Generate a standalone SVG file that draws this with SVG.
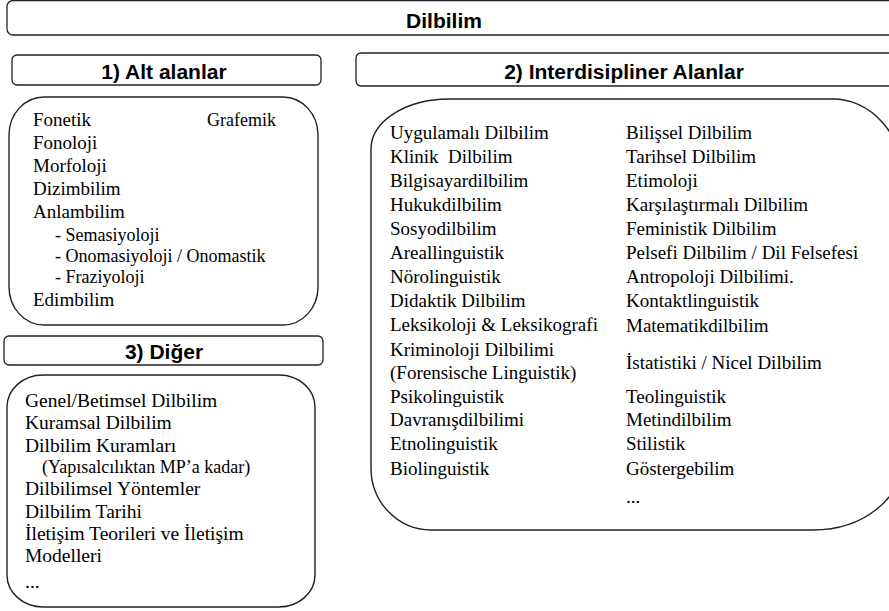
<svg xmlns="http://www.w3.org/2000/svg" width="889" height="611" viewBox="0 0 889 611">
<style>
.hdr{fill:#fff;stroke:#222;stroke-width:1.3}
.box{fill:#fff;stroke:#222;stroke-width:1.4}
.ht{font-family:"Liberation Sans",Arial,sans-serif;font-weight:bold;font-size:21px;fill:#000;text-anchor:middle}
.t{font-family:"Liberation Serif","Times New Roman",serif;font-size:19px;fill:#000}
.s{font-family:"Liberation Serif","Times New Roman",serif;font-size:18px;fill:#000}
.t3{font-family:"Liberation Serif","Times New Roman",serif;font-size:19.5px;fill:#000}
</style>
<rect width="889" height="611" fill="#fff"/>
<g id="dilbilim">
<rect class="hdr" x="7" y="0.5" width="900" height="34.5" rx="6"/>
<text class="ht" x="444" y="28">Dilbilim</text>
</g>
<g id="alt-alanlar-header">
<rect class="hdr" x="12" y="55" width="309" height="30" rx="5"/>
<text class="ht" x="164" y="79">1) Alt alanlar</text>
</g>
<g id="alt-alanlar">
<rect class="box" x="9" y="97" width="309" height="228" rx="35" ry="38"/>
<text class="t" x="33" y="126">Fonetik</text>
<text class="s" x="207" y="126">Grafemik</text>
<text class="t" x="33" y="149">Fonoloji</text>
<text class="t" x="33" y="172">Morfoloji</text>
<text class="t" x="33" y="195">Dizimbilim</text>
<text class="t" x="33" y="218">Anlambilim</text>
<text class="s" x="55" y="241">- Semasiyoloji</text>
<text class="s" x="55" y="262">- Onomasiyoloji / Onomastik</text>
<text class="s" x="55" y="283">- Fraziyoloji</text>
<text class="t" x="33" y="306">Edimbilim</text>
</g>
<g id="interdisipliner-header">
<rect class="hdr" x="356" y="53" width="560" height="33" rx="5"/>
<text class="ht" x="624" y="79">2) Interdisipliner Alanlar</text>
</g>
<g id="interdisipliner">
<path class="box" d="M449,99 H833 A70,80 0 0 1 903,179 V459 A90,71 0 0 1 813,530 H431 A60,62 0 0 1 371,468 V149 A78,50 0 0 1 449,99 Z"/>
<text class="t" x="390" y="139">Uygulamalı Dilbilim</text>
<text class="t" x="390" y="163" style="white-space:pre">Klinik  Dilbilim</text>
<text class="t" x="390" y="187">Bilgisayardilbilim</text>
<text class="t" x="390" y="211">Hukukdilbilim</text>
<text class="t" x="390" y="235">Sosyodilbilim</text>
<text class="t" x="390" y="259">Areallinguistik</text>
<text class="t" x="390" y="283">Nörolinguistik</text>
<text class="t" x="390" y="307">Didaktik Dilbilim</text>
<text class="t" x="390" y="331">Leksikoloji &amp; Leksikografi</text>
<text class="t" x="390" y="356">Kriminoloji Dilbilimi</text>
<text class="t" x="390" y="379">(Forensische Linguistik)</text>
<text class="t" x="390" y="403">Psikolinguistik</text>
<text class="t" x="390" y="426">Davranışdilbilimi</text>
<text class="t" x="390" y="450">Etnolinguistik</text>
<text class="t" x="390" y="475">Biolinguistik</text>
<text class="t" x="626" y="139">Bilişsel Dilbilim</text>
<text class="t" x="626" y="163">Tarihsel Dilbilim</text>
<text class="t" x="626" y="187">Etimoloji</text>
<text class="t" x="626" y="211">Karşılaştırmalı Dilbilim</text>
<text class="t" x="626" y="235">Feministik Dilbilim</text>
<text class="t" x="626" y="259">Pelsefi Dilbilim / Dil Felsefesi</text>
<text class="t" x="626" y="283">Antropoloji Dilbilimi.</text>
<text class="t" x="626" y="307">Kontaktlinguistik</text>
<text class="t" x="626" y="332">Matematikdilbilim</text>
<text class="t" x="626" y="369">İstatistiki / Nicel Dilbilim</text>
<text class="t" x="626" y="403">Teolinguistik</text>
<text class="t" x="626" y="426">Metindilbilim</text>
<text class="t" x="626" y="450">Stilistik</text>
<text class="t" x="626" y="475">Göstergebilim</text>
<text class="t" x="626" y="503">...</text>
</g>
<g id="diger-header">
<rect class="hdr" x="4" y="336" width="319" height="29" rx="5"/>
<text class="ht" x="164" y="359">3) Diğer</text>
</g>
<g id="diger">
<rect class="box" x="7" y="375" width="308" height="232" rx="36" ry="32"/>
<text class="t3" x="25" y="407">Genel/Betimsel Dilbilim</text>
<text class="t3" x="25" y="429">Kuramsal Dilbilim</text>
<text class="t3" x="25" y="452">Dilbilim Kuramları</text>
<text class="s" x="42" y="473">(Yapısalcılıktan MP’a kadar)</text>
<text class="t3" x="25" y="495">Dilbilimsel Yöntemler</text>
<text class="t3" x="25" y="518">Dilbilim Tarihi</text>
<text class="t3" x="25" y="540">İletişim Teorileri ve İletişim</text>
<text class="t3" x="25" y="562">Modelleri</text>
<text class="t3" x="25" y="588">...</text>
</g>
<g id="connectors"></g>
</svg>
